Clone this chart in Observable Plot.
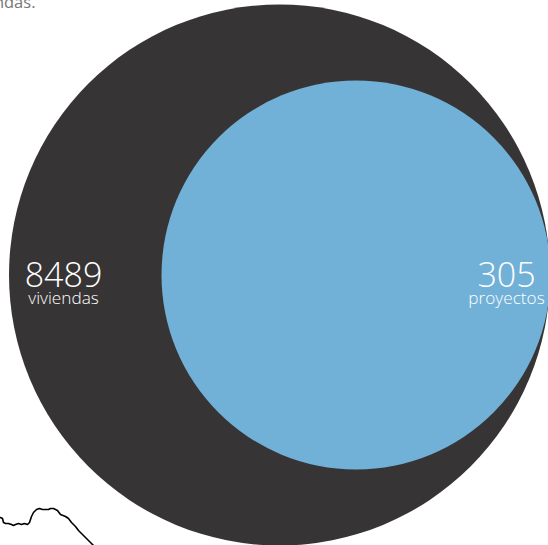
<!DOCTYPE html>
<html lang="es">
<head>
<meta charset="utf-8">
<script src="https://cdn.jsdelivr.net/npm/d3@7"></script>
<script src="https://cdn.jsdelivr.net/npm/@observablehq/plot@0.6"></script>
<style>
  html, body { margin: 0; padding: 0; background: #fff; overflow: hidden; }
  svg { display: block; }
</style>
</head>
<body>
<div id="chart"></div>
<script>
// Housing units and projects shown as nested circles
const counts = [8489, 305];
const units = ["viviendas", "proyectos"];
const fills = ["#373435", "#71b1d7"];

// Circle centres and label anchors, in the chart's coordinate system
const centreX = [279, 355.5];
const centreY = [274.5, 274.5];
const labelX = [63, 506];

// Fragment of the coast outline peeking out below the circles
const coastX = [0, 2, 3, 5, 8, 11, 13, 15, 18, 21, 24, 27, 29, 31, 33, 36, 39, 42, 45, 48, 50, 53, 57, 60, 65, 68, 71, 75, 78, 82, 86, 90, 93];
const coastY = [517, 518, 522, 523, 523, 524, 525, 524, 523, 524, 523, 524, 522, 516, 512, 509, 508, 509, 509, 509, 508, 508, 510, 514, 516, 518, 522, 526, 530, 534, 538, 542, 545];

const rows = counts.map((value, i) => ({
  value,
  unit: units[i],
  fill: fills[i],
  cx: centreX[i],
  cy: centreY[i],
  lx: labelX[i]
}));
const coast = coastX.map((x, i) => ({x, y: coastY[i]}));

const chart = Plot.plot({
  width: 548,
  height: 545,
  margin: 0,
  x: {domain: [0, 548], range: [0, 548], axis: null},
  y: {domain: [0, 545], range: [0, 545], axis: null},
  r: {type: "linear", domain: [305, 8489], range: [194.5, 270.5]},
  style: {fontFamily: "'Open Sans', sans-serif", background: "#fff"},
  marks: [
    Plot.line(coast, {x: "x", y: "y", stroke: "#000", strokeWidth: 1.6}),
    Plot.dot(rows, {x: "cx", y: "cy", r: "value", fill: "fill"}),
    Plot.text(rows, {x: "lx", y: () => 275.5, text: d => String(d.value), fill: "#fff", fontSize: 34, fontWeight: 300, textAnchor: "middle"}),
    Plot.text(rows, {x: "lx", y: () => 298, text: "unit", fill: "#fff", fontSize: 17.2, fontWeight: 300, textAnchor: "middle"}),
    Plot.text(["viviendas."], {x: () => 35, y: () => 2, text: d => d, fill: "#777", fontSize: 16.5, textAnchor: "end"})
  ]
});
document.getElementById("chart").append(chart);
</script>
</body>
</html>
